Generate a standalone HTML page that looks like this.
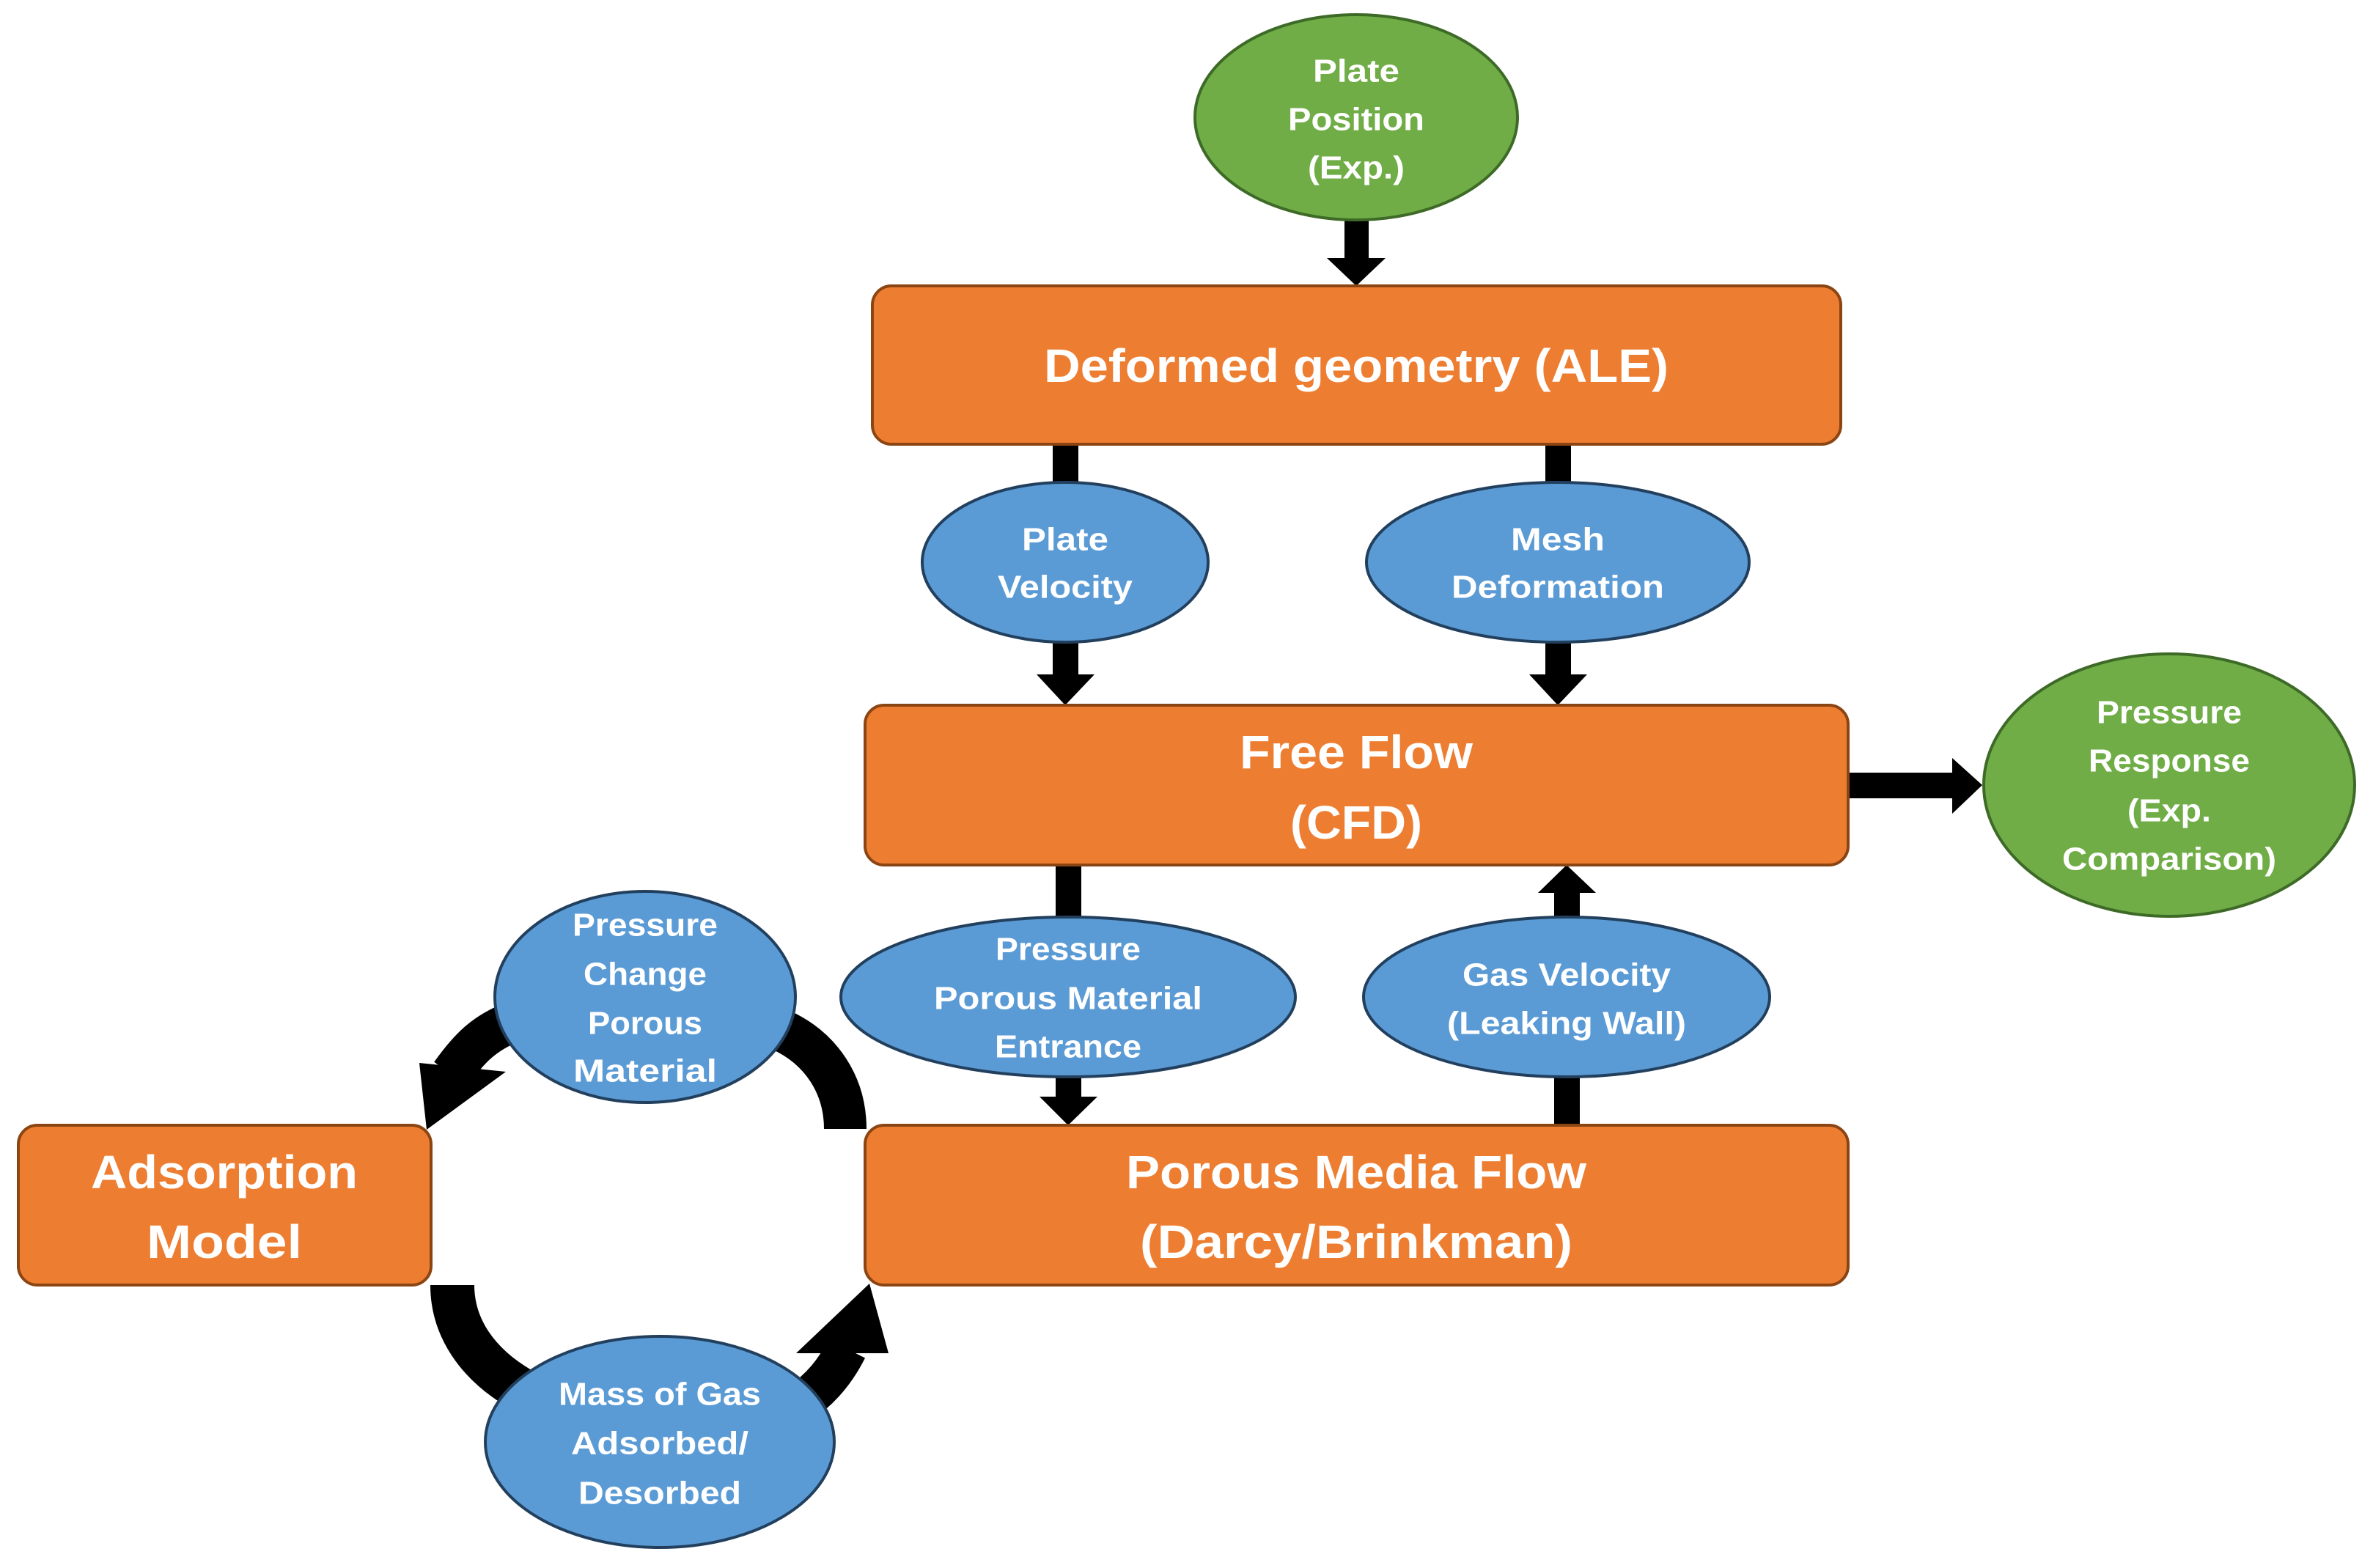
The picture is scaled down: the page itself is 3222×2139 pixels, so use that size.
<!DOCTYPE html>
<html><head><meta charset="utf-8"><style>
html,body{margin:0;padding:0;background:#fff;}
svg{display:block;}
text{font-family:"Liberation Sans",sans-serif;font-weight:bold;fill:#fff;text-anchor:middle;dominant-baseline:central;}
.e{font-size:44px;}
.b{font-size:64px;}
</style></head><body>
<svg width="3222" height="2139" viewBox="0 0 3222 2139" xmlns="http://www.w3.org/2000/svg">
<g fill="#000" stroke="none">
  <!-- Plate position -> Deformed -->
  <rect x="1834" y="298" width="33" height="56"/>
  <polygon points="1810,352 1890,352 1850,390"/>
  <!-- Deformed -> ellipses -->
  <rect x="1436" y="604" width="35" height="62"/>
  <rect x="2108" y="600" width="35" height="66"/>
  <!-- ellipses -> Free flow -->
  <rect x="1436" y="874" width="35" height="50"/>
  <polygon points="1414,920 1493,920 1453,962"/>
  <rect x="2108" y="874" width="35" height="50"/>
  <polygon points="2086,920 2165,920 2125,962"/>
  <!-- Free flow -> Pressure response -->
  <rect x="2519" y="1054" width="148" height="35"/>
  <polygon points="2663,1034 2663,1110 2704,1071"/>
  <!-- Free flow -> Entrance -->
  <rect x="1440" y="1178" width="35" height="80"/>
  <rect x="1440" y="1466" width="35" height="34"/>
  <polygon points="1418,1496 1497,1496 1457,1535"/>
  <!-- Gas velocity -> Free flow -->
  <rect x="2120" y="1214" width="35" height="42"/>
  <polygon points="2098,1218 2177,1218 2137,1180"/>
  <rect x="2120" y="1466" width="35" height="72"/>
  <!-- loop arcs -->
  <path d="M1153,1540 C1153,1480 1120,1430 1065,1405" fill="none" stroke="#000" stroke-width="58"/>
  <path d="M697,1395 C660,1410 640,1430 615,1465" fill="none" stroke="#000" stroke-width="56"/>
  <polygon points="572,1450 690,1462 582,1541"/>
  <path d="M617,1753 C617,1810 650,1860 710,1895" fill="none" stroke="#000" stroke-width="60"/>
  <path d="M1090,1915 C1120,1895 1140,1870 1155,1840" fill="none" stroke="#000" stroke-width="56"/>
  <polygon points="1086,1846 1212,1846 1186,1751"/>
</g>

<!-- Ellipses -->
<ellipse cx="1850" cy="160" rx="220" ry="140" fill="#70AD47" stroke="#3E6A27" stroke-width="4"/>
<ellipse cx="1453" cy="767" rx="195" ry="109" fill="#5B9BD5" stroke="#22405E" stroke-width="4"/>
<ellipse cx="2125" cy="767" rx="261" ry="109" fill="#5B9BD5" stroke="#22405E" stroke-width="4"/>
<ellipse cx="2959" cy="1071" rx="253" ry="179" fill="#70AD47" stroke="#3E6A27" stroke-width="4"/>
<ellipse cx="1457" cy="1360" rx="310" ry="109" fill="#5B9BD5" stroke="#22405E" stroke-width="4"/>
<ellipse cx="2137" cy="1360" rx="277" ry="109" fill="#5B9BD5" stroke="#22405E" stroke-width="4"/>
<ellipse cx="880" cy="1360" rx="205" ry="144" fill="#5B9BD5" stroke="#22405E" stroke-width="4"/>
<ellipse cx="900" cy="1967" rx="238" ry="144" fill="#5B9BD5" stroke="#22405E" stroke-width="4"/>

<!-- Boxes -->
<rect x="1190" y="390" width="1321" height="216" rx="26" fill="#ED7D31" stroke="#8B4513" stroke-width="4"/>
<rect x="1180" y="962" width="1341" height="218" rx="26" fill="#ED7D31" stroke="#8B4513" stroke-width="4"/>
<rect x="1180" y="1535" width="1341" height="218" rx="26" fill="#ED7D31" stroke="#8B4513" stroke-width="4"/>
<rect x="25" y="1535" width="563" height="218" rx="26" fill="#ED7D31" stroke="#8B4513" stroke-width="4"/>

<!-- Text -->
<text class="e" x="1850" y="97" textLength="118" lengthAdjust="spacingAndGlyphs">Plate</text>
<text class="e" x="1850" y="163" textLength="186" lengthAdjust="spacingAndGlyphs">Position</text>
<text class="e" x="1850" y="229" textLength="132" lengthAdjust="spacingAndGlyphs">(Exp.)</text>

<text class="b" x="1850" y="499" textLength="852" lengthAdjust="spacingAndGlyphs">Deformed geometry (ALE)</text>

<text class="e" x="1453" y="736" textLength="118" lengthAdjust="spacingAndGlyphs">Plate</text>
<text class="e" x="1453" y="801" textLength="184" lengthAdjust="spacingAndGlyphs">Velocity</text>
<text class="e" x="2125" y="736" textLength="128" lengthAdjust="spacingAndGlyphs">Mesh</text>
<text class="e" x="2125" y="801" textLength="290" lengthAdjust="spacingAndGlyphs">Deformation</text>

<text class="b" x="1850" y="1026" textLength="318" lengthAdjust="spacingAndGlyphs">Free Flow</text>
<text class="b" x="1850" y="1122" textLength="180" lengthAdjust="spacingAndGlyphs">(CFD)</text>

<text class="e" x="2959" y="972" textLength="198" lengthAdjust="spacingAndGlyphs">Pressure</text>
<text class="e" x="2959" y="1038" textLength="220" lengthAdjust="spacingAndGlyphs">Response</text>
<text class="e" x="2959" y="1106" textLength="114" lengthAdjust="spacingAndGlyphs">(Exp.</text>
<text class="e" x="2959" y="1172" textLength="292" lengthAdjust="spacingAndGlyphs">Comparison)</text>

<text class="e" x="1457" y="1295" textLength="198" lengthAdjust="spacingAndGlyphs">Pressure</text>
<text class="e" x="1457" y="1362" textLength="366" lengthAdjust="spacingAndGlyphs">Porous Material</text>
<text class="e" x="1457" y="1428" textLength="200" lengthAdjust="spacingAndGlyphs">Entrance</text>

<text class="e" x="2137" y="1330" textLength="284" lengthAdjust="spacingAndGlyphs">Gas Velocity</text>
<text class="e" x="2137" y="1396" textLength="326" lengthAdjust="spacingAndGlyphs">(Leaking Wall)</text>

<text class="e" x="880" y="1262" textLength="198" lengthAdjust="spacingAndGlyphs">Pressure</text>
<text class="e" x="880" y="1329" textLength="168" lengthAdjust="spacingAndGlyphs">Change</text>
<text class="e" x="880" y="1396" textLength="156" lengthAdjust="spacingAndGlyphs">Porous</text>
<text class="e" x="880" y="1461" textLength="196" lengthAdjust="spacingAndGlyphs">Material</text>

<text class="b" x="1850" y="1599" textLength="628" lengthAdjust="spacingAndGlyphs">Porous Media Flow</text>
<text class="b" x="1850" y="1694" textLength="590" lengthAdjust="spacingAndGlyphs">(Darcy/Brinkman)</text>

<text class="b" x="306" y="1599" textLength="364" lengthAdjust="spacingAndGlyphs">Adsorption</text>
<text class="b" x="306" y="1694" textLength="212" lengthAdjust="spacingAndGlyphs">Model</text>

<text class="e" x="900" y="1902" textLength="276" lengthAdjust="spacingAndGlyphs">Mass of Gas</text>
<text class="e" x="900" y="1969" textLength="242" lengthAdjust="spacingAndGlyphs">Adsorbed/</text>
<text class="e" x="900" y="2037" textLength="222" lengthAdjust="spacingAndGlyphs">Desorbed</text>
</svg>
</body></html>
